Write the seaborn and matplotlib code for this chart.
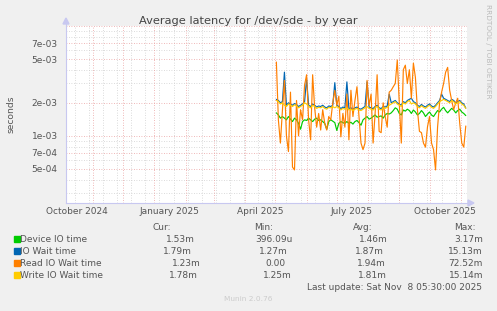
import matplotlib
matplotlib.use('Agg')
import matplotlib.pyplot as plt
import matplotlib.ticker as mticker
from matplotlib.patches import Rectangle, Polygon
from matplotlib.lines import Line2D
import numpy as np
import pandas as pd
import seaborn as sns

# ---------------- data (values in milliseconds, every 2 days from start_date) -------------
start_date = '2025-05-02'
step_days = 2

device_io = [1.62, 1.55, 1.45, 1.50, 1.45, 1.40, 1.50, 1.42, 1.35, 1.45,
             1.40, 1.30, 1.15, 1.35, 1.40, 1.38, 1.45, 1.40, 1.35, 1.42,
             1.45, 1.38, 1.40, 1.35, 1.30, 1.15, 1.35, 1.40, 1.36, 1.32,
             1.12, 1.30, 1.35, 1.32, 1.30, 1.35, 1.30, 1.33, 1.28, 1.35,
             1.38, 1.32, 1.25, 1.40, 1.45, 1.50, 1.42, 1.45, 1.50, 1.55,
             1.48, 1.50, 1.52, 1.45, 1.55, 1.60, 1.58, 1.62, 1.70, 1.80,
             1.75, 1.60, 1.55, 1.72, 1.68, 1.75, 1.70, 1.60, 1.72, 1.65,
             1.55, 1.60, 1.70, 1.62, 1.50, 1.58, 1.65, 1.55, 1.50, 1.60,
             1.70, 1.65, 1.75, 1.82, 1.70, 1.62, 1.70, 1.78, 1.72, 1.62,
             1.70, 1.75, 1.65, 1.60, 1.53]

write_wait = [2.10, 2.05, 1.95, 2.00, 1.90, 1.85, 1.95, 1.90, 1.85, 1.92,
              1.88, 1.80, 1.85, 1.90, 2.00, 1.95, 1.85, 1.80, 1.90, 1.85,
              1.78, 1.82, 1.80, 1.85, 1.78, 1.75, 1.82, 1.80, 1.85, 1.80,
              1.85, 1.80, 1.72, 1.78, 1.75, 1.80, 1.72, 1.75, 1.70, 1.75,
              1.78, 1.72, 1.70, 1.75, 1.80, 1.85, 1.78, 1.75, 1.72, 1.80,
              1.85, 1.75, 1.72, 1.80, 1.78, 1.82, 1.90, 1.95, 2.00, 2.05,
              1.95, 1.90, 1.85, 2.00, 1.95, 2.05, 2.10, 1.95, 2.00, 1.95,
              1.85, 1.80, 1.88, 1.82, 1.78, 1.85, 1.90, 1.82, 1.78, 1.85,
              1.95, 2.05, 2.10, 2.15, 2.10, 2.05, 2.00, 2.10, 2.05, 1.95,
              2.00, 2.05, 1.95, 1.90, 1.78]

io_wait = [2.15, 2.10, 2.00, 2.05, 3.80, 1.90, 2.00, 1.95, 1.90, 1.97,
           1.93, 1.85, 1.90, 1.95, 2.05, 3.30, 1.90, 1.85, 1.95, 1.90,
           1.83, 1.87, 1.85, 1.90, 1.83, 1.80, 1.87, 1.85, 1.90, 3.05,
           1.90, 1.85, 1.77, 1.83, 1.80, 3.10, 1.77, 1.80, 1.75, 1.80,
           1.83, 1.77, 1.75, 1.80, 1.85, 3.10, 1.83, 1.80, 1.77, 1.85,
           1.90, 1.80, 1.77, 1.85, 1.83, 1.87, 2.40, 2.00, 2.05, 2.10,
           2.00, 1.95, 1.90, 2.05, 2.00, 2.10, 2.15, 2.20, 2.05, 2.00,
           1.90, 1.85, 1.93, 1.87, 1.83, 1.90, 1.95, 1.87, 1.83, 1.90,
           2.00, 2.10, 2.40, 2.20, 2.15, 2.10, 2.05, 2.15, 2.10, 2.00,
           2.05, 2.10, 2.00, 1.95, 1.79]

read_wait = [4.70, 1.40, 0.86, 1.70, 3.20, 1.00, 0.72, 2.50, 0.52, 0.49,
             2.10, 1.00, 1.73, 1.40, 2.90, 3.60, 1.40, 0.92, 3.60, 1.80,
             1.20, 1.60, 1.13, 1.73, 1.30, 1.13, 1.50, 1.40, 2.00, 2.60,
             1.90, 2.30, 0.98, 1.60, 1.20, 2.40, 0.92, 2.60, 1.50, 2.10,
             2.80, 1.50, 0.86, 0.75, 0.86, 3.20, 1.90, 2.40, 0.86, 1.60,
             3.60, 1.10, 1.07, 2.00, 1.50, 1.20, 2.50, 2.60, 2.80, 3.00,
             4.90, 2.00, 0.86, 4.00, 4.40, 3.00, 4.00, 2.20, 4.60, 3.40,
             1.73, 1.10, 1.07, 0.86, 0.79, 1.21, 1.50, 0.86, 0.75, 0.49,
             1.20, 2.00, 2.50, 3.00, 3.80, 4.20, 2.60, 2.10, 1.73, 2.00,
             2.20, 1.30, 0.86, 0.79, 1.23]

series_names = ['Device IO time', 'IO Wait time', 'Read IO Wait time', 'Write IO Wait time']
series_colors = ['#00CC00', '#0066B3', '#FF8000', '#FFCC00']
legend_cur = ['1.53m', '1.79m', '1.23m', '1.78m']
legend_min = ['396.09u', '1.27m', '0.00', '1.25m']
legend_avg = ['1.46m', '1.87m', '1.94m', '1.81m']
legend_max = ['3.17m', '15.13m', '72.52m', '15.14m']

ytick_vals = [5e-4, 7e-4, 1e-3, 2e-3, 5e-3, 7e-3, 1e-2]
ytick_labels = ['5e-04', '7e-04', '1e-03', '2e-03', '5e-03', '7e-03', '']
yminor_vals = [3e-4, 4e-4, 6e-4, 8e-4, 9e-4, 3e-3, 4e-3, 6e-3, 8e-3, 9e-3]
xtick_dates = ['2024-10-16', '2025-01-16', '2025-04-16', '2025-07-16', '2025-10-16']
xtick_labels = ['October 2024', 'January 2025', 'April 2025', 'July 2025', 'October 2025']

title = 'Average latency for /dev/sde - by year'
ylabel = 'seconds'
last_update = 'Last update: Sat Nov  8 05:30:00 2025'
footer = 'Munin 2.0.76'
watermark = 'RRDTOOL / TOBI OETIKER'

# ---------------- build table ----------------
n = len(device_io)
dates = pd.date_range(start_date, periods=n, freq=f'{step_days}D')
frames = []
for name, vals in zip(series_names, [device_io, io_wait, read_wait, write_wait]):
    frames.append(pd.DataFrame({'date': dates, 'value': np.array(vals) * 1e-3, 'series': name}))
df = pd.concat(frames, ignore_index=True)

# ---------------- figure ----------------
sns.set_style('white')
plt.rcParams['font.family'] = ['DejaVu Sans']
W, H = 497, 311
BG = '#F0F0F0'
TXT = '#555555'
fig = plt.figure(figsize=(W / 100, H / 100), dpi=100, facecolor=BG)
L, R, T, B = 66, 467, 26, 203
ax = fig.add_axes([L / W, 1 - B / H, (R - L) / W, (B - T) / H])
ax.set_facecolor('white')

sns.lineplot(data=df, x='date', y='value', hue='series', hue_order=series_names,
             palette=series_colors, linewidth=0.85, legend=False, estimator=None,
             ax=ax, zorder=3)

ax.set_yscale('log')
ax.set_ylim(2.45e-4, 1.0e-2)
ax.set_xlim(pd.Timestamp('2024-10-05 05:00'), pd.Timestamp('2025-11-07 05:00'))

# grid lines
dot = (0, (1, 2))
for d in pd.date_range('2024-10-14', '2025-11-07', freq='14D'):
    ax.axvline(d, color='#CFCFCF', lw=0.6, ls=dot, zorder=1)
for d in pd.date_range('2024-11-01', '2025-11-07', freq='MS'):
    ax.axvline(d, color='#EBA0A0', lw=0.6, ls=dot, zorder=1.5)
for v in yminor_vals:
    ax.axhline(v, color='#CFCFCF', lw=0.6, ls=dot, zorder=1)
for v in ytick_vals:
    ax.axhline(v, color='#EBA0A0', lw=0.6, ls=dot, zorder=1.5)

ax.yaxis.set_major_locator(mticker.FixedLocator(ytick_vals))
ax.yaxis.set_major_formatter(mticker.FixedFormatter(ytick_labels))
ax.yaxis.set_minor_locator(mticker.NullLocator())
ax.set_xticks(pd.to_datetime(xtick_dates))
ax.set_xticklabels(xtick_labels)
ax.tick_params(axis='both', which='major', length=0, labelsize=6.5, colors=TXT, pad=3)
ax.tick_params(axis='y', pad=6)
ax.set_xlabel('')
ax.set_ylabel('')

spine_c = '#C8C8F0'
for s in ['top', 'right']:
    ax.spines[s].set_visible(False)
for s in ['left', 'bottom']:
    ax.spines[s].set_color(spine_c)
    ax.spines[s].set_linewidth(0.8)

def fx(x):
    return x / W

def fy(y):
    return 1 - y / H

# axis extensions and arrows
fig.add_artist(Line2D([fx(L), fx(L)], [fy(T), fy(23)], color=spine_c, lw=0.8))
fig.add_artist(Polygon([[fx(L - 3), fy(24)], [fx(L + 3), fy(24)], [fx(L), fy(18)]],
                       closed=True, color=spine_c, transform=fig.transFigure))
fig.add_artist(Line2D([fx(R), fx(469)], [fy(B), fy(B)], color=spine_c, lw=0.8))
fig.add_artist(Polygon([[fx(468), fy(B - 3)], [fx(468), fy(B + 3)], [fx(474), fy(B)]],
                       closed=True, color=spine_c, transform=fig.transFigure))

# texts
fig.text(fx(248), fy(21), title, ha='center', va='center', fontsize=8.2, color='#444444')
fig.text(fx(11), fy(114), ylabel, ha='center', va='center', rotation=90, fontsize=6.6, color=TXT)
fig.text(fx(488), fy(51), watermark, ha='center', va='center', rotation=270,
         fontsize=5.3, color='#BBBBBB')

FS = 6.5
row_y = [239, 251, 263, 275]
fig.text(fx(171), fy(227), 'Cur:', ha='right', va='center', fontsize=FS, color=TXT)
fig.text(fx(273), fy(227), 'Min:', ha='right', va='center', fontsize=FS, color=TXT)
fig.text(fx(373), fy(227), 'Avg:', ha='right', va='center', fontsize=FS, color=TXT)
fig.text(fx(476), fy(227), 'Max:', ha='right', va='center', fontsize=FS, color=TXT)
cur_x = [195, 192, 201, 198]
min_x = [293, 288, 286, 292]
avg_x = [388, 384, 386, 387]
max_x = [483, 483, 483, 483]
for i, (name, col) in enumerate(zip(series_names, series_colors)):
    y = row_y[i]
    fig.add_artist(Rectangle((fx(14), fy(y + 3)), 6 / W, 6 / H, color=col,
                             transform=fig.transFigure))
    fig.text(fx(20), fy(y), name, ha='left', va='center', fontsize=FS, color=TXT)
    fig.text(fx(cur_x[i]), fy(y), legend_cur[i], ha='right', va='center', fontsize=FS, color=TXT)
    fig.text(fx(min_x[i]), fy(y), legend_min[i], ha='right', va='center', fontsize=FS, color=TXT)
    fig.text(fx(avg_x[i]), fy(y), legend_avg[i], ha='right', va='center', fontsize=FS, color=TXT)
    fig.text(fx(max_x[i]), fy(y), legend_max[i], ha='right', va='center', fontsize=FS, color=TXT)
fig.text(fx(482), fy(287), last_update, ha='right', va='center', fontsize=FS, color=TXT)
fig.text(fx(248), fy(299), footer, ha='center', va='center', fontsize=5.3, color='#CCCCCC')

fig.savefig('out.png', dpi=100, facecolor=BG)
